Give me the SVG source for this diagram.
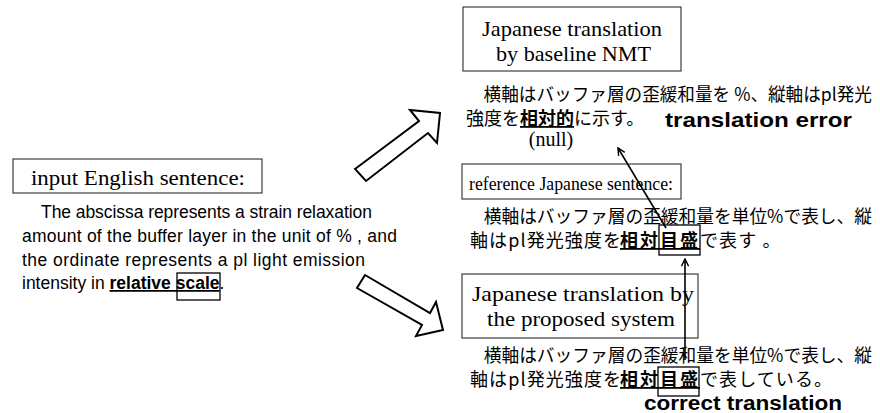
<svg xmlns="http://www.w3.org/2000/svg" width="880" height="413" viewBox="0 0 880 413">
<defs>
<style>
.box{fill:#fff;stroke:#404040;stroke-width:1.2}
.lbl{font-family:"Liberation Serif","Times New Roman",serif;font-size:21px;fill:#000}
.en{font-family:"Liberation Sans",Arial,sans-serif;font-size:17.5px;fill:#000}
.jp{font-family:"Noto Sans CJK JP","Noto Sans CJK SC",sans-serif;font-size:18px;fill:#000}
.b{font-weight:bold;text-decoration:underline}
.note{font-family:"Liberation Sans",Arial,sans-serif;font-size:21px;font-weight:bold;fill:#000}
.hl{fill:none;stroke:#000;stroke-width:1.3}
.block{fill:#fff;stroke:#000;stroke-width:2;stroke-linejoin:miter}
.line{fill:none;stroke:#000;stroke-width:1.6}
</style>
<marker id="head" viewBox="0 0 10 10" refX="9" refY="5" markerWidth="9" markerHeight="9" markerUnits="userSpaceOnUse" orient="auto">
<path d="M1,1 L9,5 L1,9" fill="none" stroke="#000" stroke-width="1.6"/>
</marker>
</defs>
<rect width="880" height="413" fill="#fff"/>

<g id="input">
<rect class="box" x="13" y="159" width="249" height="34"/>
<text class="lbl" x="31" y="185" textLength="214" lengthAdjust="spacingAndGlyphs">input English sentence:</text>
<text class="en" x="41" y="218" textLength="331" lengthAdjust="spacing">The abscissa represents a strain relaxation</text>
<text class="en" x="22" y="242" textLength="375" lengthAdjust="spacing">amount of the buffer layer in the unit of % , and</text>
<text class="en" x="22" y="266" textLength="343" lengthAdjust="spacing">the ordinate represents a pl light emission</text>
<text class="en" x="22" y="289">intensity in <tspan class="b">relative scale</tspan>.</text>
<rect class="hl" x="177" y="273" width="43" height="27"/>
</g>

<g id="baseline">
<rect class="box" x="463" y="7" width="218" height="64"/>
<text class="lbl" x="482" y="36" textLength="180" lengthAdjust="spacingAndGlyphs">Japanese translation</text>
<text class="lbl" x="496" y="61" textLength="155" lengthAdjust="spacingAndGlyphs">by baseline NMT</text>
<text class="jp" x="466" y="101" textLength="406" lengthAdjust="spacingAndGlyphs">　横軸はバッファ層の歪緩和量を %、縦軸はpl発光</text>
<text class="jp" x="466" y="125">強度を<tspan class="b">相対的</tspan>に示す。</text>
<text class="note" x="665" y="127" textLength="187" lengthAdjust="spacingAndGlyphs">translation error</text>
<text class="lbl" x="551" y="146" text-anchor="middle" style="font-size:20px">(null)</text>
</g>

<g id="reference">
<rect class="box" x="462" y="164" width="219" height="35"/>
<text class="lbl" x="469" y="190" textLength="204" lengthAdjust="spacingAndGlyphs" style="font-size:19.5px">reference Japanese sentence:</text>
<text class="jp" x="466" y="223" textLength="406" lengthAdjust="spacingAndGlyphs">　横軸はバッファ層の歪緩和量を単位%で表し、縦</text>
<text class="jp" x="470" y="247" letter-spacing="1.1">軸はpl発光強度を<tspan class="b" x="620" letter-spacing="2">相対目盛</tspan>で表す 。</text>
<rect class="hl" x="659" y="225" width="41" height="30"/>
</g>

<g id="proposed">
<rect class="box" x="462" y="274" width="236" height="64"/>
<text class="lbl" x="472" y="301" textLength="222" lengthAdjust="spacingAndGlyphs" style="font-size:22px">Japanese translation by</text>
<text class="lbl" x="487" y="326" textLength="188" lengthAdjust="spacingAndGlyphs" style="font-size:22px">the proposed system</text>
<text class="jp" x="466" y="362" textLength="406" lengthAdjust="spacingAndGlyphs">　横軸はバッファ層の歪緩和量を単位%で表し、縦</text>
<text class="jp" x="470" y="386" letter-spacing="1.1">軸はpl発光強度を<tspan class="b" x="620" letter-spacing="2">相対目盛</tspan>で表している。</text>
<rect class="hl" x="658" y="367" width="41" height="29"/>
<text class="note" x="644" y="410" textLength="198" lengthAdjust="spacingAndGlyphs" style="font-size:20px">correct translation</text>
</g>

<g id="connectors">
<polygon class="block" points="355,169 419,121 410,110 440,113 437,143 428,133 366,181"/>
<polygon class="block" points="365,275 430,313 436,302 443,330 416,336 422,325 357,288"/>
<line class="line" x1="666" y1="228" x2="618" y2="148" marker-end="url(#head)"/>
<line class="line" x1="685" y1="360" x2="685" y2="259" marker-end="url(#head)"/>
</g>
</svg>
